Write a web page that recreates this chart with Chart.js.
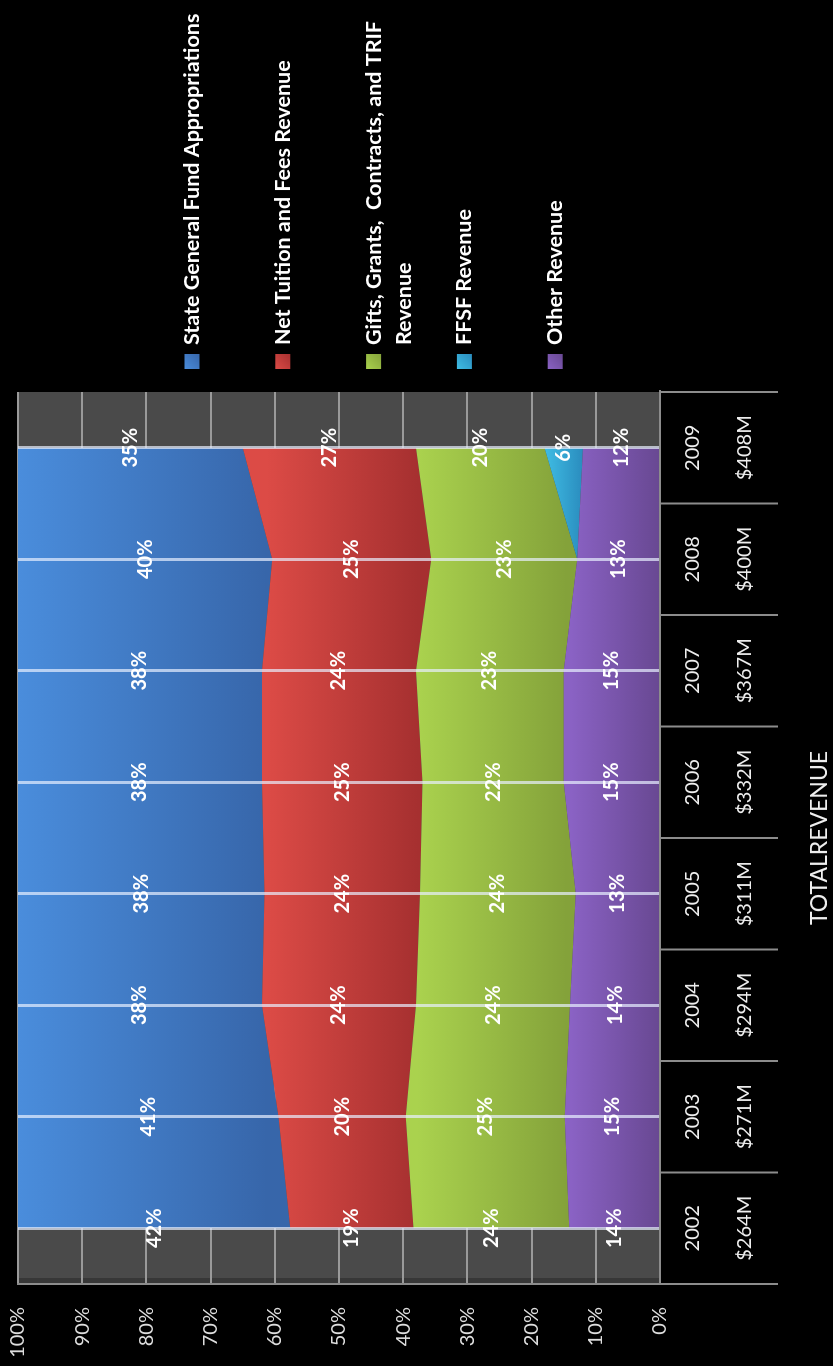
<!DOCTYPE html>
<html>
<head>
<meta charset="utf-8">
<title>Revenue Sources</title>
<script src="https://cdn.jsdelivr.net/npm/chart.js@4.4.0/dist/chart.umd.min.js"></script>
<style>
html, body { margin: 0; padding: 0; background: #000; overflow: hidden; }
#wrap {
	position: absolute; left: 0; top: 0;
	width: 1366px; height: 833px;
	transform-origin: 0 0;
	transform: translateY(1366px) rotate(-90deg);
}
</style>
</head>
<body>
<div id="wrap"><canvas id="revenue-mix" width="1366" height="833"></canvas></div>
<script>
// Revenue shares by fiscal year (percent of total revenue)
var years = ['2002', '2003', '2004', '2005', '2006', '2007', '2008', '2009'];
var totals = ['$264M', '$271M', '$294M', '$311M', '$332M', '$367M', '$400M', '$408M'];
var stateGeneralFund = [42, 41, 38, 38, 38, 38, 40, 35];
var netTuition = [19, 20, 24, 24, 25, 24, 25, 27];
var giftsGrants = [24, 25, 24, 24, 22, 23, 23, 20];
var ffsfRevenue = [0, 0, 0, 0, 0, 0, 0, 6];
var otherRevenue = [14, 15, 14, 13, 15, 15, 13, 12];
var yTicks = [0, 10, 20, 30, 40, 50, 60, 70, 80, 90, 100];

// bottom of the stack first
var series = [
	{ label: 'Other Revenue', raw: otherRevenue, light: '#8a62c4', dark: '#684892' },
	{ label: 'FFSF Revenue', raw: ffsfRevenue, light: '#3fbde4', dark: '#2a8cbe' },
	{ label: 'Gifts, Grants,  Contracts, and TRIF Revenue', raw: giftsGrants, light: '#aad24e', dark: '#84a23a' },
	{ label: 'Net Tuition and Fees Revenue', raw: netTuition, light: '#dc4b46', dark: '#a63030' },
	{ label: 'State General Fund Appropriations', raw: stateGeneralFund, light: '#4a8ddc', dark: '#3766aa' },
];

// 100% stacked: scale every year to its column sum
var colSums = years.map(function (y, i) {
	return series.reduce(function (s, d) { return s + d.raw[i]; }, 0);
});
var normalize = function (arr) {
	return arr.map(function (v, i) { return v / colSums[i] * 100; });
};

// gradient across the mean extent of a band
var bandFill = function (idx) {
	return function (c) {
		var chart = c.chart;
		var s = series[idx];
		if (!chart.chartArea) return s.dark;
		var yScale = chart.scales.y;
		var tops = 0, bots = 0, n = 0;
		years.forEach(function (y, i) {
			if (!s.raw[i]) return;
			var below = 0;
			for (var k = 0; k < idx; k++) below += series[k].raw[i] / colSums[i] * 100;
			var top = below + s.raw[i] / colSums[i] * 100;
			tops += yScale.getPixelForValue(top);
			bots += yScale.getPixelForValue(below);
			n++;
		});
		var g = chart.ctx.createLinearGradient(0, tops / n, 0, bots / n);
		g.addColorStop(0, s.light);
		g.addColorStop(1, s.dark);
		return g;
	};
};

var plotBackground = {
	id: 'plotBackground',
	beforeDraw: function (chart) {
		var a = chart.chartArea, ctx = chart.ctx;
		ctx.save();
		ctx.fillStyle = '#4a4a4a';
		ctx.fillRect(a.left, a.top, a.right - a.left, a.bottom - a.top);
		ctx.fillStyle = 'rgba(0,0,0,0.25)';
		ctx.fillRect(a.left, a.top, 6, a.bottom - a.top);
		ctx.restore();
	},
};

var wrapText = function (ctx, text, maxWidth) {
	var words = text.split(' '), lines = [], line = '';
	words.forEach(function (w) {
		var test = line ? line + ' ' + w : w;
		if (ctx.measureText(test).width > maxWidth && line) {
			lines.push(line);
			line = w;
		} else {
			line = test;
		}
	});
	lines.push(line);
	return lines;
};

var labelsAndTable = {
	id: 'labelsAndTable',
	afterDraw: function (chart) {
		var ctx = chart.ctx, a = chart.chartArea;
		var xScale = chart.scales.x, yScale = chart.scales.y;
		ctx.save();

		// data table cell borders
		var half = (xScale.getPixelForValue(1) - xScale.getPixelForValue(0)) / 2;
		ctx.strokeStyle = '#8c8c8c';
		ctx.lineWidth = 2;
		for (var i = 0; i <= years.length; i++) {
			var x = i < years.length ? xScale.getPixelForValue(i) - half : xScale.getPixelForValue(i - 1) + half;
			ctx.beginPath();
			ctx.moveTo(x, a.bottom);
			ctx.lineTo(x, a.bottom + 118);
			ctx.stroke();
		}

		// value labels in the middle of each band
		ctx.font = 'bold 20px Lato';
		ctx.fillStyle = '#ffffff';
		ctx.textAlign = 'center';
		ctx.textBaseline = 'middle';
		series.forEach(function (s, di) {
			var meta = chart.getDatasetMeta(di);
			meta.data.forEach(function (pt, i) {
				if (!s.raw[i]) return;
				var base = di === 0 ? yScale.getPixelForValue(0) : chart.getDatasetMeta(di - 1).data[i].y;
				ctx.fillText(s.raw[i] + '%', pt.x, (pt.y + base) / 2);
			});
		});

		// legend, top of stack first
		ctx.textAlign = 'left';
		ctx.font = 'bold 21.5px Lato';
		series.slice().reverse().forEach(function (s, i) {
			var cy = 192 + i * 90.8;
			var g = ctx.createLinearGradient(997, cy - 8, 1012, cy + 8);
			g.addColorStop(0, s.light);
			g.addColorStop(1, s.dark);
			ctx.fillStyle = g;
			ctx.fillRect(997, cy - 7.5, 15, 15);
			ctx.fillStyle = '#ffffff';
			wrapText(ctx, s.label, 355).forEach(function (line, k) {
				ctx.fillText(line, 1021, cy + k * 30);
			});
		});
		ctx.restore();
	},
};

var lineChart = function () {
	var ctx = document.getElementById('revenue-mix').getContext('2d');
	new Chart(ctx, {
		type: 'line',
		data: {
			labels: years,
			datasets: series.map(function (s, i) {
				return {
					label: s.label,
					data: normalize(s.raw),
					fill: i === 0 ? 'origin' : '-1',
					backgroundColor: bandFill(i),
					borderWidth: 0,
					pointRadius: 0,
					tension: 0,
				};
			}),
		},
		options: {
			responsive: false,
			animation: false,
			devicePixelRatio: 1,
			layout: {
				padding: { left: 0, top: 18, right: 392, bottom: 0 },
			},
			plugins: {
				legend: { display: false },
				tooltip: { enabled: false },
			},
			scales: {
				x: {
					type: 'category',
					offset: true,
					afterFit: function (scale) {
						scale.height = 173;
						scale.paddingLeft = 0;
						scale.paddingRight = 0;
					},
					grid: {
						z: 1,
						offset: false,
						color: 'rgba(232,240,255,0.7)',
						lineWidth: 3,
						drawTicks: false,
					},
					border: { display: true, z: 1, color: '#8c8c8c', width: 2 },
					ticks: {
						autoSkip: false,
						maxRotation: 0,
						padding: 7,
						color: '#eeeeee',
						font: { family: 'Lato', size: 20, lineHeight: 2.6 },
						callback: function (v, i) { return [years[i], totals[i]]; },
					},
					title: {
						display: true,
						text: 'TOTALREVENUE',
						color: '#eeeeee',
						font: { family: 'Lato', size: 23 },
						padding: { top: 0, bottom: 0 },
					},
				},
				y: {
					stacked: true,
					min: yTicks[0],
					max: yTicks[yTicks.length - 1],
					afterFit: function (scale) {
						scale.width = 82;
						scale.paddingTop = 0;
						scale.paddingBottom = 0;
					},
					afterBuildTicks: function (scale) {
						scale.ticks = yTicks.map(function (v) { return { value: v }; });
					},
					grid: { color: '#9a9a9a', lineWidth: 2, drawTicks: false },
					border: { display: true, color: '#8c8c8c', width: 2 },
					ticks: {
						padding: 23,
						color: '#dddddd',
						font: { family: 'Lato', size: 20 },
						callback: function (v) { return v + '%'; },
					},
				},
			},
		},
		plugins: [plotBackground, labelsAndTable],
	});
};

lineChart();
</script>
</body>
</html>
